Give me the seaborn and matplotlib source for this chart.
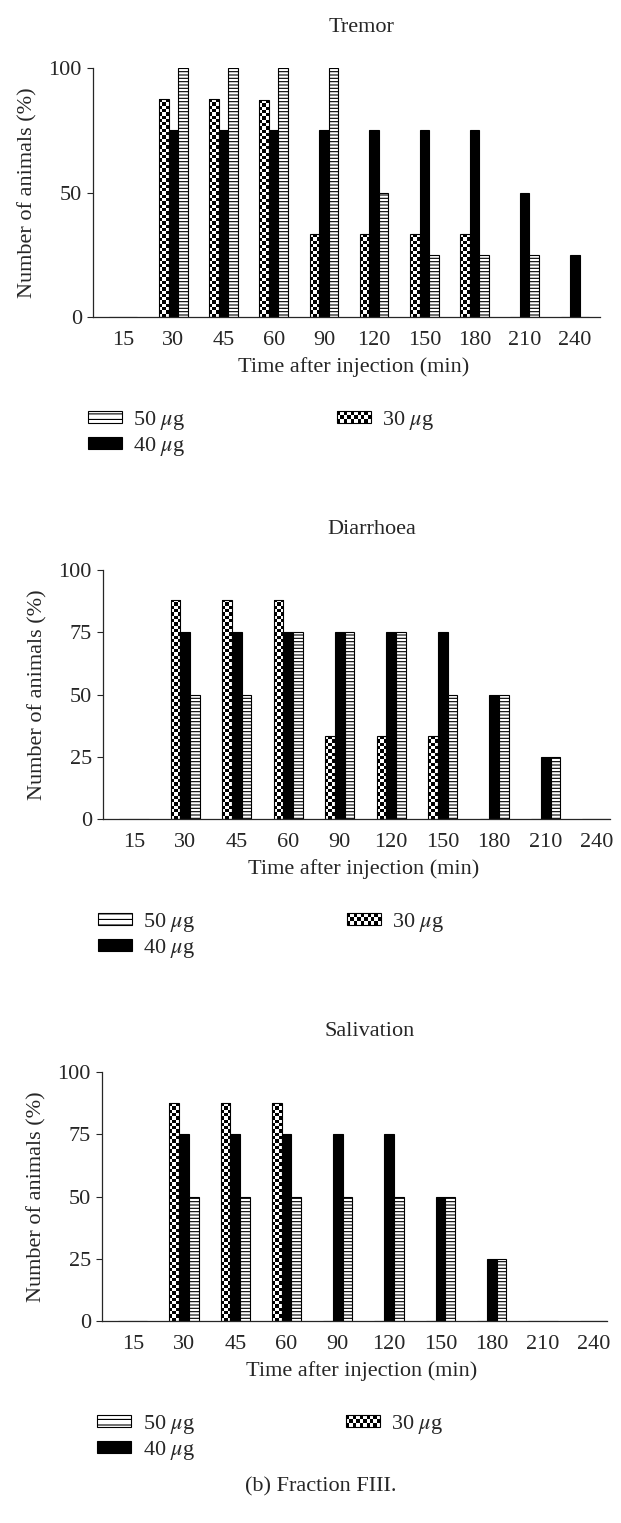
import numpy as np
import matplotlib
matplotlib.use("Agg")
import matplotlib.pyplot as plt
import seaborn as sns
import pandas as pd
from matplotlib.patches import Patch, Rectangle
from matplotlib.legend_handler import HandlerBase

times = ["15", "30", "45", "60", "90", "120", "150", "180", "210", "240"]
doses = ["30 $\\mu$g", "40 $\\mu$g", "50 $\\mu$g"]

tremor_30 = [0, 87.5, 87.5, 87, 33.3, 33.3, 33.3, 33.3, 0, 0]
tremor_40 = [0, 75, 75, 75, 75, 75, 75, 75, 50, 25]
tremor_50 = [0, 100, 100, 100, 100, 50, 25, 25, 25, 0]

diarr_30 = [0, 88, 88, 88, 33.3, 33.3, 33.3, 0, 0, 0]
diarr_40 = [0, 75, 75, 75, 75, 75, 75, 50, 25, 0]
diarr_50 = [0, 50, 50, 75, 75, 75, 50, 50, 25, 0]

saliv_30 = [0, 87.5, 87.5, 87.5, 0, 0, 0, 0, 0, 0]
saliv_40 = [0, 75, 75, 75, 75, 75, 50, 25, 0, 0]
saliv_50 = [0, 50, 50, 50, 50, 50, 50, 25, 0, 0]

panels = [
    ("Tremor", [tremor_30, tremor_40, tremor_50], [0, 50, 100]),
    ("Diarrhoea", [diarr_30, diarr_40, diarr_50], [0, 25, 50, 75, 100]),
    ("Salivation", [saliv_30, saliv_40, saliv_50], [0, 25, 50, 75, 100]),
]

sns.set_style("ticks")
plt.rcParams["font.family"] = ["Liberation Serif", "DejaVu Serif"]
plt.rcParams["mathtext.fontset"] = "stix"
plt.rcParams["hatch.linewidth"] = 0.8
FS = 16


def checker(rows, cols):
    i, j = np.indices((rows, cols))
    return (i + j) % 2


class CheckerHandler(HandlerBase):
    def create_artists(self, legend, orig_handle, xdescent, ydescent,
                       width, height, fontsize, trans):
        x0, y0 = -xdescent, -ydescent
        arts = [Rectangle((x0, y0), width, height, facecolor="white",
                          edgecolor="black", lw=0.8, transform=trans)]
        nx, ny = 10, 3
        sw, sh = width / nx, height / ny
        for a in range(nx):
            for b in range(ny):
                if (a + b) % 2 == 0:
                    arts.append(Rectangle((x0 + a * sw, y0 + b * sh), sw, sh,
                                          facecolor="black", lw=0, transform=trans))
        return arts


fig = plt.figure(figsize=(6.21, 15.23), dpi=100)
boxes = [
    (93 / 621, 1 - 317 / 1523, 507 / 621, (-0.6, 9.5)),
    (103 / 621, 1 - 819 / 1523, 507 / 621, (-0.6, 9.25)),
    (102 / 621, 1 - 1321 / 1523, 505 / 621, (-0.6, 9.25)),
]
h_ax = 249 / 1523

for (title, series, yticks), (left, bottom, w_ax, xlim) in zip(panels, boxes):
    ax = fig.add_axes([left, bottom, w_ax, h_ax])
    df = pd.DataFrame({
        "time": times * 3,
        "dose": np.repeat(doses, len(times)),
        "pct": np.concatenate(series),
    })
    sns.barplot(data=df, x="time", y="pct", hue="dose", order=times,
                hue_order=doses, palette=["white", "black", "white"],
                saturation=1, edgecolor="black", linewidth=0.8,
                width=0.57, gap=0, legend=False, ax=ax, errorbar=None)

    # 50 ug: ladder bars
    for bar in ax.containers[2]:
        bar.set_hatch("-----")
    # 30 ug: checkerboard texture clipped to each bar
    sq_x = 3.3 / 50.7
    sq_y = 100 * 3.3 / 249
    for bar in ax.containers[0]:
        x, y = bar.get_x(), bar.get_y()
        w, h = bar.get_width(), bar.get_height()
        if h <= 0:
            continue
        bar.set_facecolor("none")
        arr = checker(max(1, int(round(h / sq_y))), max(1, int(round(w / sq_x))))
        im = ax.imshow(arr, cmap="gray_r", extent=(x, x + w, y, y + h),
                       origin="lower", interpolation="nearest", aspect="auto",
                       zorder=0.9)
        im.set_clip_path(bar)
    ax.set_xlim(*xlim)
    ax.set_ylim(0, 100)

    sns.despine(ax=ax)
    ax.set_yticks(yticks)
    ax.tick_params(axis="x", length=0, pad=10, labelsize=FS)
    ax.tick_params(axis="y", length=4, width=0.8, pad=4, labelsize=FS)
    for s in ["left", "bottom"]:
        ax.spines[s].set_linewidth(0.9)

    ax.set_title(title, x=0.53, y=1.145, pad=0, fontsize=FS)
    ax.set_xlabel("Time after injection (min)", fontsize=FS)
    ax.set_ylabel("Number of animals (%)", fontsize=FS)
    ax.xaxis.set_label_coords(0.515, -0.16)
    ax.yaxis.set_label_coords(-0.11, 0.5)

    handles = [
        Patch(facecolor="white", edgecolor="black", lw=0.8, hatch="---"),
        Patch(facecolor="black", edgecolor="black", lw=0.8),
        Patch(facecolor="white", edgecolor="black"),
    ]
    labels = ["50 $\\mu$g", "40 $\\mu$g", "30 $\\mu$g"]
    ax.legend(handles, labels, ncol=2, loc="upper left",
              bbox_to_anchor=(-0.01, -0.37), frameon=False, fontsize=FS,
              handlelength=1.55, handleheight=0.42, handletextpad=0.5,
              columnspacing=6.8, labelspacing=0.12, borderpad=0,
              borderaxespad=0, handler_map={handles[2]: CheckerHandler()})

fig.text(321 / 621, 1 - 1487 / 1523, "(b) Fraction FIII.", ha="center",
         va="center", fontsize=FS)

fig.savefig("out.png", dpi=100)
